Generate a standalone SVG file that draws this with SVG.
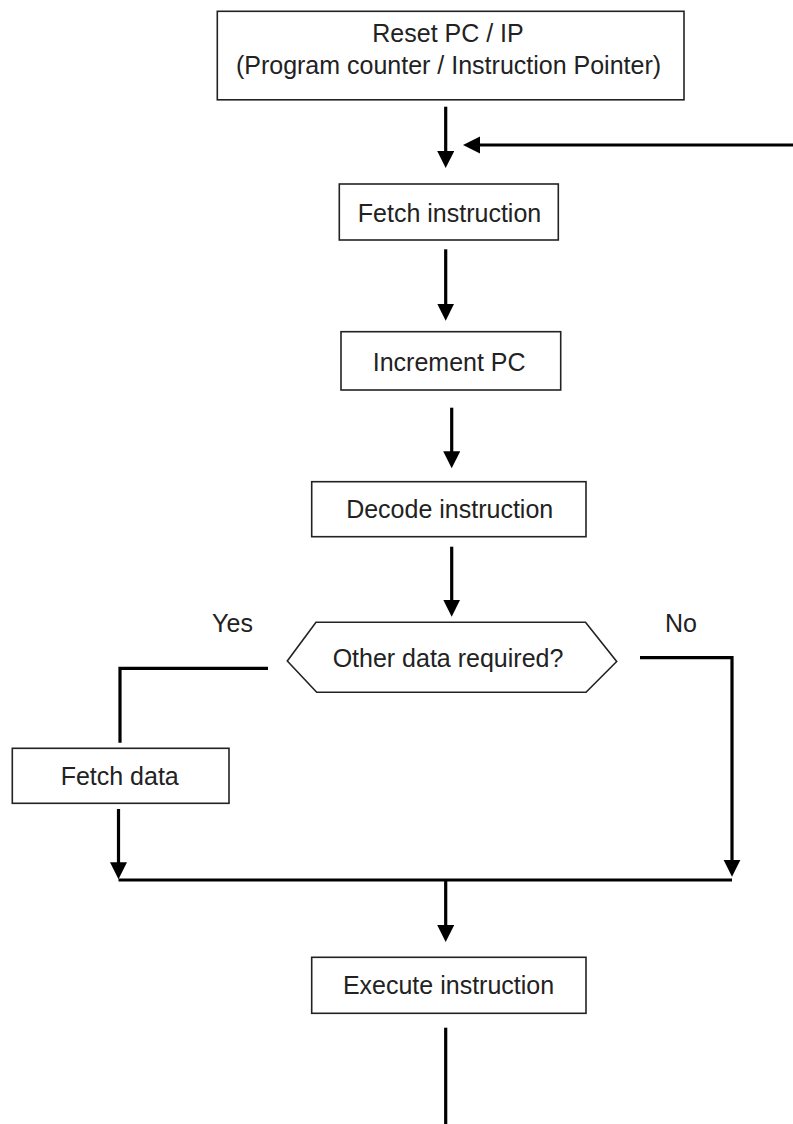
<svg xmlns="http://www.w3.org/2000/svg" width="793" height="1124" viewBox="0 0 793 1124">
<style>
.box{fill:#fff;stroke:#222;stroke-width:1.6}
.lbl{font-family:"Liberation Sans",Arial,Helvetica,sans-serif;font-size:25px;fill:#222;text-anchor:middle}
.con{fill:none;stroke:#000;stroke-width:3.2}
</style>
<defs>
<marker id="ah" markerUnits="userSpaceOnUse" markerWidth="18" markerHeight="18" refX="8" refY="8.5" orient="auto">
<path d="M0,0 L17,8.5 L0,17 z" fill="#000"/>
</marker>
</defs>
<rect width="793" height="1124" fill="#fff"/>
<g id="connectors">
<line class="con" x1="445.7" y1="106.7" x2="445.7" y2="159" marker-end="url(#ah)"/>
<line class="con" x1="793" y1="145" x2="472" y2="145" marker-end="url(#ah)"/>
<line class="con" x1="445.7" y1="249.3" x2="445.7" y2="311.7" marker-end="url(#ah)"/>
<line class="con" x1="451.7" y1="407.7" x2="451.7" y2="459.3" marker-end="url(#ah)"/>
<line class="con" x1="451.7" y1="546.7" x2="451.7" y2="607.7" marker-end="url(#ah)"/>
<polyline class="con" points="268,668.3 120,668.3 120,742.7"/>
<line class="con" x1="118.5" y1="809" x2="118.5" y2="870.3" marker-end="url(#ah)"/>
<polyline class="con" points="640,657.7 732,657.7 732,867.7" marker-end="url(#ah)"/>
<line class="con" x1="118.5" y1="880" x2="732" y2="880"/>
<line class="con" x1="445.7" y1="880" x2="445.7" y2="933" marker-end="url(#ah)"/>
<line class="con" x1="445.7" y1="1027.7" x2="445.7" y2="1124"/>
</g>
<g id="reset">
<rect class="box" x="217.3" y="11.3" width="466.7" height="88.5"/>
<text class="lbl" x="448" y="42">Reset PC / IP</text>
<text class="lbl" x="448.5" y="74">(Program counter / Instruction Pointer)</text>
</g>
<g id="fetch-instruction">
<rect class="box" x="339.3" y="184" width="219" height="56"/>
<text class="lbl" x="449.5" y="221.7">Fetch instruction</text>
</g>
<g id="increment-pc">
<rect class="box" x="341" y="331.7" width="219.7" height="58.3"/>
<text class="lbl" x="449.2" y="371">Increment PC</text>
</g>
<g id="decode-instruction">
<rect class="box" x="311.7" y="481.7" width="274.3" height="55"/>
<text class="lbl" x="449.7" y="518.3">Decode instruction</text>
</g>
<g id="decision">
<polygon class="box" points="316,622.3 585.5,622.3 616.7,661.5 586,692.3 316.7,692.3 287.3,661"/>
<text class="lbl" x="448" y="666.7">Other data required?</text>
</g>
<g id="label-yes">
<text class="lbl" x="232.5" y="632">Yes</text>
</g>
<g id="label-no">
<text class="lbl" x="681" y="632">No</text>
</g>
<g id="fetch-data">
<rect class="box" x="12.3" y="748.3" width="216.7" height="55"/>
<text class="lbl" x="119.7" y="785">Fetch data</text>
</g>
<g id="execute-instruction">
<rect class="box" x="311.7" y="957.3" width="274.3" height="56"/>
<text class="lbl" x="448.5" y="994.3">Execute instruction</text>
</g>
</svg>
